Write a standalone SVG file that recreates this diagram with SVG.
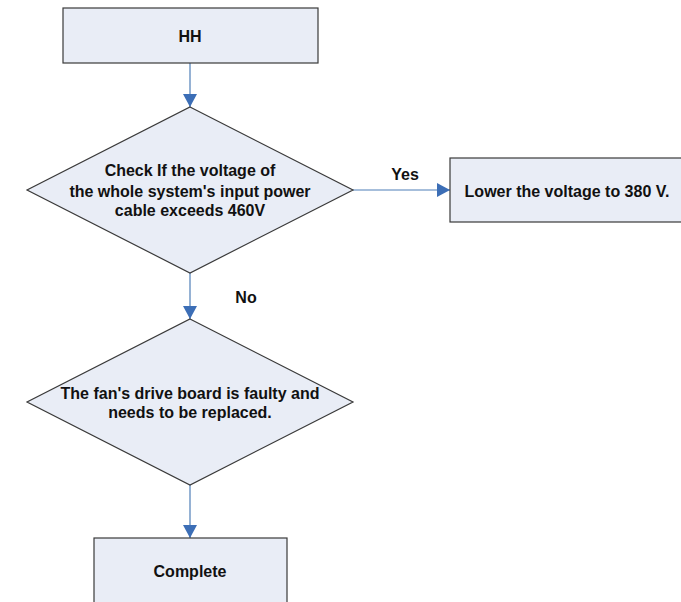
<svg xmlns="http://www.w3.org/2000/svg" width="681" height="602" viewBox="0 0 681 602">
<style>
.box{fill:#e9edf6;stroke:#3a3a3a;stroke-width:1.2}
.t{font-family:"Liberation Sans",Arial,sans-serif;font-size:16px;font-weight:bold;fill:#111;text-anchor:middle}
.c{stroke:#4f7fb8;stroke-width:1.2;fill:none}
</style>
<defs>
<marker id="a" markerWidth="14" markerHeight="14" refX="13" refY="7" orient="auto" markerUnits="userSpaceOnUse">
<path d="M0,0 L13,7 L0,14 Z" fill="#3c6eb6"/>
</marker>
</defs>
<rect width="681" height="602" fill="#fff"/>
<g id="connectors">
<line class="c" x1="190" y1="63" x2="190" y2="107" marker-end="url(#a)"/>
<line class="c" x1="353" y1="190" x2="450" y2="190" marker-end="url(#a)"/>
<line class="c" x1="190" y1="273" x2="190" y2="319" marker-end="url(#a)"/>
<line class="c" x1="190" y1="485" x2="190" y2="538" marker-end="url(#a)"/>
<text class="t" x="405" y="180">Yes</text>
<text class="t" x="246" y="303">No</text>
</g>
<g id="n1">
<rect class="box" x="63" y="8" width="255" height="55"/>
<text class="t" x="190" y="42">HH</text>
</g>
<g id="n2">
<polygon class="box" points="190,107 353,190 190,273 27,190"/>
<text class="t" x="190" y="176">Check If the voltage of</text>
<text class="t" x="190" y="197">the whole system's input power</text>
<text class="t" x="190" y="216">cable exceeds 460V</text>
</g>
<g id="n3">
<rect class="box" x="450" y="158" width="240" height="64"/>
<text class="t" x="567" y="197">Lower the voltage to 380 V.</text>
</g>
<g id="n4">
<polygon class="box" points="190,319 353,402 190,485 27,402"/>
<text class="t" x="190" y="399">The fan's drive board is faulty and</text>
<text class="t" x="190" y="418">needs to be replaced.</text>
</g>
<g id="n5">
<rect class="box" x="94" y="538" width="193" height="70"/>
<text class="t" x="190" y="577">Complete</text>
</g>
</svg>
